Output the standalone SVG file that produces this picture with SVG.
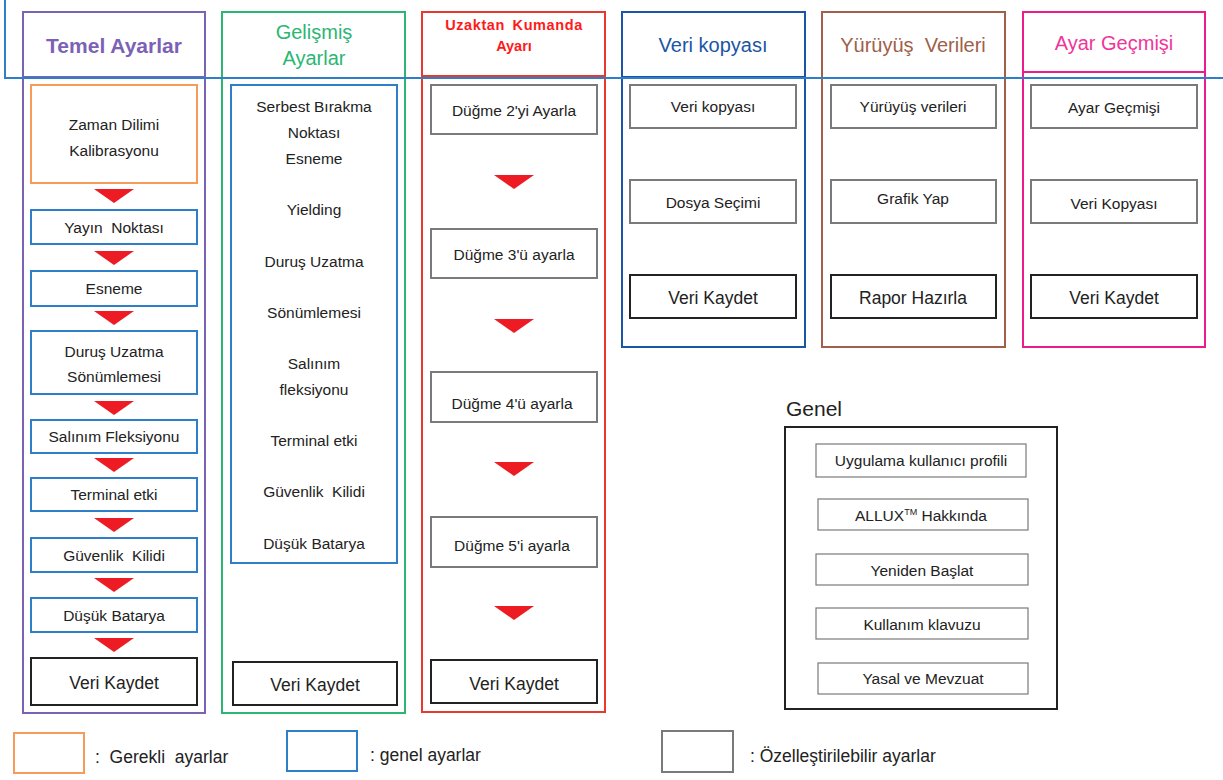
<svg xmlns="http://www.w3.org/2000/svg" width="1223" height="780" viewBox="0 0 1223 780">
<style>
text{font-family:"Liberation Sans",Arial,sans-serif;fill:#222;text-anchor:middle;white-space:pre}
.t{font-size:15.5px}
.vk{font-size:17.5px}
.h{font-size:20px}
.lg{font-size:17.5px;text-anchor:start}
.bx{fill:#fff;stroke-width:2}
.blue{stroke:#2f7fc8}
.gray{stroke:#7a7a7a}
.blk{stroke:#222}
.thin{fill:#fff;stroke:#7a7a7a;stroke-width:1.2}
.tri{fill:#ed1c24}
</style>
<defs>
<polygon id="tri" points="-20,0 20,0 0,14" class="tri"/>
</defs>
<rect width="1223" height="780" fill="#fff"/>

<g id="col-temel">
<rect x="23" y="12" width="182" height="701" fill="none" stroke="#7b62b5" stroke-width="2"/>
<line x1="23" y1="77" x2="205" y2="77" stroke="#7b62b5" stroke-width="2"/>
<text x="114" y="53" style="font-size:21px;font-weight:bold;fill:#7b62b5">Temel Ayarlar</text>
<rect x="31" y="85" width="166" height="98" class="bx" stroke="#f79b5b"/>
<text class="t" x="114" y="130">Zaman Dilimi</text>
<text class="t" x="114" y="156">Kalibrasyonu</text>
<rect x="31" y="210" width="166" height="34" class="bx blue"/>
<text class="t" x="114" y="233" xml:space="preserve">Yayın  Noktası</text>
<rect x="31" y="271" width="166" height="35" class="bx blue"/>
<text class="t" x="114" y="294">Esneme</text>
<rect x="31" y="331" width="166" height="63" class="bx blue"/>
<text class="t" x="114" y="357">Duruş Uzatma</text>
<text class="t" x="114" y="382">Sönümlemesi</text>
<rect x="31" y="420" width="166" height="33" class="bx blue"/>
<text class="t" x="114" y="442">Salınım Fleksiyonu</text>
<rect x="31" y="478" width="166" height="33" class="bx blue"/>
<text class="t" x="114" y="500">Terminal etki</text>
<rect x="31" y="538" width="166" height="34" class="bx blue"/>
<text class="t" x="114" y="561" xml:space="preserve">Güvenlik  Kilidi</text>
<rect x="31" y="598" width="166" height="34" class="bx blue"/>
<text class="t" x="114" y="621">Düşük Batarya</text>
<rect x="31" y="658" width="166" height="47" class="bx blk"/>
<text class="vk" x="114" y="689">Veri Kaydet</text>
</g>

<g id="col-gelismis">
<rect x="222" y="12" width="183" height="701" fill="none" stroke="#2bb673" stroke-width="2"/>
<line x1="222" y1="78" x2="405" y2="78" stroke="#2bb673" stroke-width="2"/>
<text class="h" x="314" y="39" style="fill:#2bb673">Gelişmiş</text>
<text class="h" x="314" y="65" style="fill:#2bb673">Ayarlar</text>
<rect x="231" y="85" width="166" height="478" class="bx blue"/>
<text class="t" x="314" y="112">Serbest Bırakma</text>
<text class="t" x="314" y="138">Noktası</text>
<text class="t" x="314" y="164">Esneme</text>
<text class="t" x="314" y="215">Yielding</text>
<text class="t" x="314" y="267">Duruş Uzatma</text>
<text class="t" x="314" y="318">Sönümlemesi</text>
<text class="t" x="314" y="369">Salınım</text>
<text class="t" x="314" y="395">fleksiyonu</text>
<text class="t" x="314" y="446">Terminal etki</text>
<text class="t" x="314" y="497" xml:space="preserve">Güvenlik  Kilidi</text>
<text class="t" x="314" y="549">Düşük Batarya</text>
<rect x="233" y="662" width="164" height="43" class="bx blk"/>
<text class="vk" x="315" y="691">Veri Kaydet</text>
</g>

<g id="col-uzaktan">
<rect x="422" y="12" width="183" height="700" fill="none" stroke="#e8392e" stroke-width="2"/>
<line x1="422" y1="76" x2="605" y2="76" stroke="#e8392e" stroke-width="2"/>
<text x="514" y="30" style="font-size:14.5px;font-weight:bold;fill:#ff1a1a;letter-spacing:0.6px;word-spacing:3px">Uzaktan Kumanda</text>
<text x="514" y="51" style="font-size:14.5px;font-weight:bold;fill:#ff1a1a">Ayarı</text>
<rect x="431" y="85" width="166" height="49" class="bx gray"/>
<text class="t" x="514" y="116">Düğme 2'yi Ayarla</text>
<rect x="431" y="229" width="166" height="49" class="bx gray"/>
<text class="t" x="514" y="260">Düğme 3'ü ayarla</text>
<rect x="431" y="372" width="166" height="50" class="bx gray"/>
<text class="t" x="512" y="409">Düğme 4'ü ayarla</text>
<rect x="431" y="517" width="166" height="50" class="bx gray"/>
<text class="t" x="512" y="551">Düğme 5'i ayarla</text>
<rect x="431" y="660" width="166" height="43" class="bx blk"/>
<text class="vk" x="514" y="690">Veri Kaydet</text>
</g>

<g id="col-veri">
<rect x="622" y="12" width="183" height="335" fill="none" stroke="#1b55a5" stroke-width="2"/>
<line x1="622" y1="77" x2="805" y2="77" stroke="#1b55a5" stroke-width="2"/>
<text class="h" x="713" y="52" style="fill:#1b55a5">Veri kopyası</text>
<rect x="630" y="85" width="166" height="43" class="bx gray"/>
<text class="t" x="713" y="112">Veri kopyası</text>
<rect x="630" y="180" width="166" height="43" class="bx gray"/>
<text class="t" x="713" y="208">Dosya Seçimi</text>
<rect x="630" y="275" width="166" height="43" class="bx blk"/>
<text class="vk" x="713" y="304">Veri Kaydet</text>
</g>

<g id="col-yuruyus">
<rect x="822" y="12" width="183" height="335" fill="none" stroke="#a0604a" stroke-width="2"/>
<line x1="822" y1="78" x2="1005" y2="78" stroke="#a0604a" stroke-width="2"/>
<text class="h" x="913" y="52" style="fill:#a0604a" xml:space="preserve">Yürüyüş  Verileri</text>
<rect x="831" y="85" width="165" height="43" class="bx gray"/>
<text class="t" x="913" y="112">Yürüyüş verileri</text>
<rect x="831" y="180" width="165" height="43" class="bx gray"/>
<text class="t" x="913" y="204">Grafik Yap</text>
<rect x="831" y="275" width="165" height="43" class="bx blk"/>
<text class="vk" x="913" y="304">Rapor Hazırla</text>
</g>

<g id="col-gecmis">
<rect x="1023" y="12" width="182" height="335" fill="none" stroke="#ec1c8c" stroke-width="2"/>
<line x1="1023" y1="72" x2="1205" y2="72" stroke="#ec1c8c" stroke-width="2"/>
<text class="h" x="1114" y="50" style="fill:#f0359a">Ayar Geçmişi</text>
<rect x="1031" y="85" width="166" height="43" class="bx gray"/>
<text class="t" x="1114" y="113">Ayar Geçmişi</text>
<rect x="1031" y="180" width="166" height="43" class="bx gray"/>
<text class="t" x="1114" y="209">Veri Kopyası</text>
<rect x="1031" y="275" width="166" height="43" class="bx blk"/>
<text class="vk" x="1114" y="304">Veri Kaydet</text>
</g>

<g id="genel">
<text x="786" y="416" style="font-size:21px;text-anchor:start">Genel</text>
<rect x="785" y="427" width="272" height="282" fill="#fff" stroke="#222" stroke-width="2"/>
<rect x="816" y="444" width="210" height="33" class="thin"/>
<text class="t" x="921" y="466">Uygulama kullanıcı profili</text>
<rect x="818" y="499" width="210" height="31" class="thin"/>
<text class="t" x="921" y="521">ALLUX<tspan style="font-size:9px" dy="-6">TM</tspan><tspan dy="6"> Hakkında</tspan></text>
<rect x="816" y="554" width="212" height="31" class="thin"/>
<text class="t" x="922" y="576">Yeniden Başlat</text>
<rect x="816" y="608" width="212" height="31" class="thin"/>
<text class="t" x="922" y="630">Kullanım klavuzu</text>
<rect x="818" y="663" width="210" height="31" class="thin"/>
<text class="t" x="923" y="684">Yasal ve Mevzuat</text>
</g>

<g id="top-line">
<path d="M5,0 V78 H1223" fill="none" stroke="#2f7fc8" stroke-width="2"/>
</g>

<g id="connectors">
<use href="#tri" x="114" y="189"/>
<use href="#tri" x="114" y="251"/>
<use href="#tri" x="114" y="311"/>
<use href="#tri" x="114" y="401"/>
<use href="#tri" x="114" y="458"/>
<use href="#tri" x="114" y="518"/>
<use href="#tri" x="114" y="578"/>
<use href="#tri" x="114" y="638"/>
<use href="#tri" x="514" y="175"/>
<use href="#tri" x="514" y="319"/>
<use href="#tri" x="514" y="462"/>
<use href="#tri" x="514" y="606"/>
</g>

<g id="legend">
<rect x="14" y="733" width="70" height="40" class="bx" stroke="#f79b5b"/>
<text class="lg" x="95" y="763" xml:space="preserve">:  Gerekli  ayarlar</text>
<rect x="287" y="731" width="70" height="40" class="bx blue"/>
<text class="lg" x="370" y="761">: genel ayarlar</text>
<rect x="662" y="731" width="71" height="41" class="bx gray"/>
<text class="lg" x="750" y="762">: Özelleştirilebilir ayarlar</text>
</g>
</svg>
